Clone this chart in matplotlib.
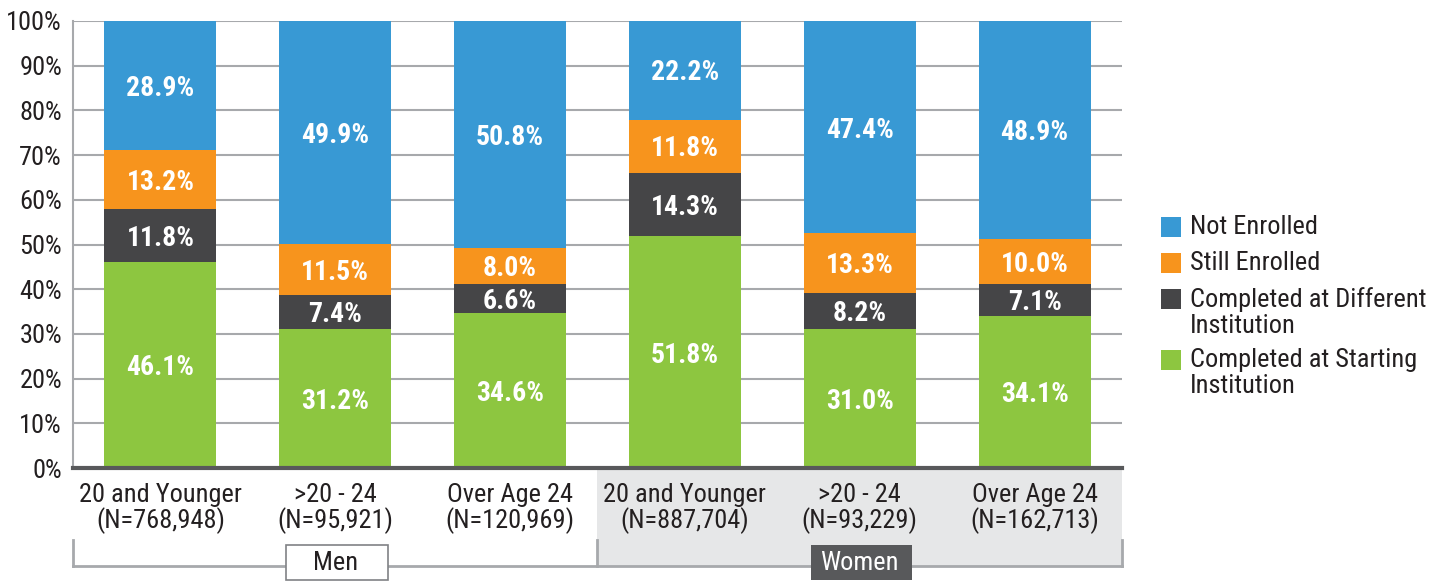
import matplotlib
matplotlib.use("Agg")
import matplotlib.pyplot as plt
from matplotlib.patches import Rectangle
from matplotlib import font_manager as fm
import numpy as np

# ---- data ----
categories = ["20 and Younger\n(N=768,948)", ">20 - 24\n(N=95,921)", "Over Age 24\n(N=120,969)",
              "20 and Younger\n(N=887,704)", ">20 - 24\n(N=93,229)", "Over Age 24\n(N=162,713)"]
groups = ["Men", "Women"]
completed_start = [46.1, 31.2, 34.6, 51.8, 31.0, 34.1]
completed_diff = [11.8, 7.4, 6.6, 14.3, 8.2, 7.1]
still_enrolled = [13.2, 11.5, 8.0, 11.8, 13.3, 10.0]
not_enrolled = [28.9, 49.9, 50.8, 22.2, 47.4, 48.9]
series_names = ["Not Enrolled", "Still Enrolled", "Completed at Different\nInstitution",
                "Completed at Starting\nInstitution"]
y_ticks = [0, 10, 20, 30, 40, 50, 60, 70, 80, 90, 100]

# ---- style ----
avail = {f.name for f in fm.fontManager.ttflist}
fam = [f for f in ["Liberation Sans Narrow", "Roboto Condensed", "Open Sans Condensed", "Liberation Sans", "DejaVu Sans"] if f in avail]
plt.rcParams['font.family'] = fam

c_blue = "#3899d4"
c_orange = "#f7941d"
c_dark = "#454547"
c_green = "#8dc640"
c_grid = "#a7a9ac"
c_text = "#231f20"

fig = plt.figure(figsize=(14.5, 5.82), dpi=100)
ax = fig.add_axes([73/1450, 1-468/582, (1122-73)/1450, (468-21)/582])

x = np.arange(len(categories))
w = 0.64
stack = [(completed_start, c_green), (completed_diff, c_dark), (still_enrolled, c_orange), (not_enrolled, c_blue)]
bottom = np.zeros(len(categories))
for vals, col in stack:
    vals = np.array(vals)
    ax.bar(x, vals, w, bottom=bottom, color=col, edgecolor="none", zorder=3)
    for xi, b, v in zip(x, bottom, vals):
        ax.annotate(f"{v:.1f}%", (xi, b + v/2), xytext=(0, -2), textcoords="offset points",
                    ha="center", va="center", color="white",
                    fontsize=20, fontweight="bold", zorder=4)
    bottom += vals

ax.set_xlim(-0.5, 5.5)
ax.set_ylim(0, 100)
ax.set_yticks(y_ticks)
ax.set_yticklabels([f"{t}%" for t in y_ticks], fontsize=19, color=c_text)
ax.tick_params(axis="y", length=0, pad=8)
ax.set_xticks([])
ax.grid(axis="y", color=c_grid, lw=1.5, zorder=0)
for s in ["top", "right"]:
    ax.spines[s].set_visible(False)
ax.spines["left"].set_color(c_grid)
ax.spines["left"].set_linewidth(1.5)
ax.spines["bottom"].set_color("#58595b")
ax.spines["bottom"].set_linewidth(3)
ax.spines["bottom"].set_zorder(5)

tr = ax.get_xaxis_transform()
# gray band behind women labels
ax.add_patch(Rectangle((2.5, -0.219), 3.0, 0.215, transform=tr, facecolor="#e6e7e8",
                       edgecolor="none", clip_on=False, zorder=1))
# bracket lines
y_line = -0.219
y_top = -0.16
ax.plot([-0.5, 5.5], [y_line, y_line], transform=tr, color=c_grid, lw=2, clip_on=False, zorder=2)
for xv in [-0.5, 2.5, 5.5]:
    ax.plot([xv, xv], [y_top, y_line], transform=tr, color=c_grid, lw=2, clip_on=False, zorder=2)

# category labels
for xi, lab in zip(x, categories):
    ax.text(xi, -0.033, lab, transform=tr, ha="center", va="top", fontsize=19, color=c_text,
            linespacing=1.0, zorder=3)

# group boxes
box_y = -0.251
box_h = 0.079
ax.add_patch(Rectangle((0.72, box_y), 0.58, box_h, transform=tr, facecolor="white",
                       edgecolor="#808285", lw=1.2, clip_on=False, zorder=6))
ax.text(1.0, box_y + box_h/2, groups[0], transform=tr, ha="center", va="center", fontsize=19,
        color=c_text, zorder=7)
ax.add_patch(Rectangle((3.72, box_y), 0.58, box_h, transform=tr, facecolor="#58595b",
                       edgecolor="none", clip_on=False, zorder=6))
ax.text(4.0, box_y + box_h/2, groups[1], transform=tr, ha="center", va="center", fontsize=19,
        color="white", zorder=7)

# legend (manual)
leg_colors = [c_blue, c_orange, c_dark, c_green]
leg_y = [227, 263, 299, 360]
for name, col, yy in zip(series_names, leg_colors, leg_y):
    fig.patches.append(Rectangle((1161/1450, 1-(yy+10)/582), 20/1450, 20/582,
                                 transform=fig.transFigure, facecolor=col, edgecolor="none"))
    fig.text(1190/1450, 1-(yy-12)/582, name, ha="left", va="top", fontsize=19, color=c_text,
             linespacing=1.12)

fig.savefig("out.png", dpi=100)
